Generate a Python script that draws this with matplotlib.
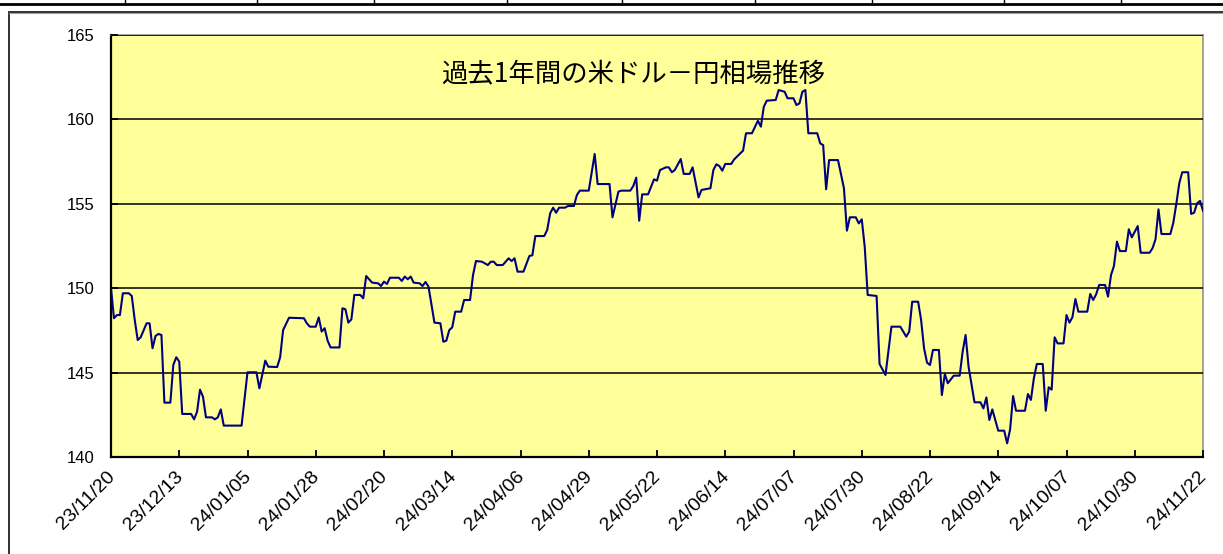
import matplotlib
matplotlib.use("Agg")
import matplotlib.pyplot as plt
import matplotlib.dates as mdates
import matplotlib.transforms as mtransforms
from matplotlib.patches import Rectangle
from matplotlib.lines import Line2D
import pandas as pd

# ---------------- data ----------------
title = "過去1年間の米ドル－円相場推移"

dates = [
    "2023-11-20", "2023-11-21", "2023-11-22", "2023-11-23", "2023-11-24", "2023-11-26",
    "2023-11-27", "2023-11-28", "2023-11-29", "2023-11-30", "2023-12-02", "2023-12-03",
    "2023-12-04", "2023-12-05", "2023-12-06", "2023-12-07", "2023-12-08", "2023-12-10",
    "2023-12-11", "2023-12-12", "2023-12-13", "2023-12-14", "2023-12-17", "2023-12-18",
    "2023-12-19", "2023-12-20", "2023-12-21", "2023-12-22", "2023-12-24", "2023-12-25",
    "2023-12-26", "2023-12-27", "2023-12-28", "2024-01-03", "2024-01-05", "2024-01-08",
    "2024-01-09", "2024-01-11", "2024-01-12", "2024-01-15", "2024-01-16", "2024-01-17",
    "2024-01-19", "2024-01-24", "2024-01-25", "2024-01-26", "2024-01-28", "2024-01-29",
    "2024-01-30", "2024-01-31", "2024-02-01", "2024-02-02", "2024-02-05", "2024-02-06",
    "2024-02-07", "2024-02-08", "2024-02-09", "2024-02-10", "2024-02-12", "2024-02-13",
    "2024-02-14", "2024-02-16", "2024-02-18", "2024-02-19", "2024-02-20", "2024-02-21",
    "2024-02-22", "2024-02-25", "2024-02-26", "2024-02-27", "2024-02-28", "2024-02-29",
    "2024-03-01", "2024-03-03", "2024-03-04", "2024-03-05", "2024-03-06", "2024-03-08",
    "2024-03-10", "2024-03-11", "2024-03-12", "2024-03-13", "2024-03-14", "2024-03-15",
    "2024-03-17", "2024-03-18", "2024-03-20", "2024-03-21", "2024-03-22", "2024-03-24",
    "2024-03-26", "2024-03-27", "2024-03-28", "2024-03-29", "2024-03-31", "2024-04-02",
    "2024-04-03", "2024-04-04", "2024-04-05", "2024-04-07", "2024-04-09", "2024-04-10",
    "2024-04-11", "2024-04-14", "2024-04-15", "2024-04-16", "2024-04-17", "2024-04-18",
    "2024-04-19", "2024-04-21", "2024-04-22", "2024-04-24", "2024-04-25", "2024-04-26",
    "2024-04-29", "2024-05-01", "2024-05-02", "2024-05-06", "2024-05-07", "2024-05-09",
    "2024-05-10", "2024-05-13", "2024-05-14", "2024-05-15", "2024-05-16", "2024-05-17",
    "2024-05-19", "2024-05-21", "2024-05-22", "2024-05-23", "2024-05-25", "2024-05-26",
    "2024-05-27", "2024-05-28", "2024-05-30", "2024-05-31", "2024-06-02", "2024-06-03",
    "2024-06-05", "2024-06-06", "2024-06-09", "2024-06-10", "2024-06-11", "2024-06-12",
    "2024-06-13", "2024-06-14", "2024-06-16", "2024-06-17", "2024-06-20", "2024-06-21",
    "2024-06-23", "2024-06-25", "2024-06-26", "2024-06-27", "2024-06-28", "2024-07-01",
    "2024-07-02", "2024-07-04", "2024-07-05", "2024-07-07", "2024-07-08", "2024-07-09",
    "2024-07-10", "2024-07-11", "2024-07-12", "2024-07-15", "2024-07-16", "2024-07-17",
    "2024-07-18", "2024-07-19", "2024-07-22", "2024-07-24", "2024-07-25", "2024-07-26",
    "2024-07-28", "2024-07-29", "2024-07-30", "2024-07-31", "2024-08-01", "2024-08-04",
    "2024-08-05", "2024-08-07", "2024-08-09", "2024-08-12", "2024-08-14", "2024-08-15",
    "2024-08-16", "2024-08-18", "2024-08-19", "2024-08-20", "2024-08-21", "2024-08-22",
    "2024-08-23", "2024-08-25", "2024-08-26", "2024-08-27", "2024-08-28", "2024-08-30",
    "2024-09-01", "2024-09-02", "2024-09-03", "2024-09-04", "2024-09-06", "2024-09-08",
    "2024-09-09", "2024-09-10", "2024-09-11", "2024-09-12", "2024-09-14", "2024-09-16",
    "2024-09-17", "2024-09-18", "2024-09-19", "2024-09-20", "2024-09-23", "2024-09-24",
    "2024-09-25", "2024-09-26", "2024-09-27", "2024-09-29", "2024-09-30", "2024-10-01",
    "2024-10-02", "2024-10-03", "2024-10-04", "2024-10-06", "2024-10-07", "2024-10-08",
    "2024-10-09", "2024-10-10", "2024-10-11", "2024-10-14", "2024-10-15", "2024-10-16",
    "2024-10-17", "2024-10-18", "2024-10-20", "2024-10-21", "2024-10-22", "2024-10-23",
    "2024-10-24", "2024-10-25", "2024-10-27", "2024-10-28", "2024-10-29", "2024-10-31",
    "2024-11-01", "2024-11-04", "2024-11-05", "2024-11-06", "2024-11-07", "2024-11-08",
    "2024-11-11", "2024-11-12", "2024-11-13", "2024-11-14", "2024-11-15", "2024-11-17",
    "2024-11-18", "2024-11-19", "2024-11-20", "2024-11-21", "2024-11-22",
]

rates = [
    150.00, 148.22, 148.41, 148.41, 149.70, 149.70,
    149.54, 148.12, 146.93, 147.09, 147.92, 147.92,
    146.44, 147.17, 147.29, 147.23, 143.22, 143.22,
    145.45, 145.91, 145.65, 142.55, 142.55, 142.23,
    142.68, 143.99, 143.57, 142.35, 142.35, 142.23,
    142.35, 142.82, 141.86, 141.86, 145.02, 145.02,
    144.07, 145.71, 145.35, 145.33, 145.91, 147.52,
    148.25, 148.22, 147.92, 147.72, 147.72, 148.27,
    147.43, 147.63, 146.89, 146.49, 146.49, 148.81,
    148.75, 147.96, 148.15, 149.60, 149.60, 149.40,
    150.72, 150.33, 150.29, 150.13, 150.39, 150.25,
    150.62, 150.62, 150.43, 150.69, 150.53, 150.69,
    150.33, 150.29, 150.13, 150.37, 150.09, 147.96,
    147.92, 146.83, 146.89, 147.52, 147.68, 148.61,
    148.61, 149.30, 149.30, 150.78, 151.61, 151.57,
    151.37, 151.57, 151.57, 151.37, 151.37, 151.77,
    151.61, 151.77, 150.98, 150.98, 151.91, 151.95,
    153.09, 153.09, 153.45, 154.44, 154.77, 154.47,
    154.77, 154.77, 154.87, 154.87, 155.52, 155.78,
    155.78, 157.95, 156.17, 156.17, 154.20, 155.72,
    155.78, 155.78, 156.05, 156.55, 154.00, 155.56,
    155.56, 156.45, 156.37, 157.00, 157.16, 157.16,
    156.87, 157.00, 157.65, 156.77, 156.77, 157.16,
    155.38, 155.82, 155.92, 157.00, 157.34, 157.24,
    156.96, 157.36, 157.36, 157.63, 158.15, 159.18,
    159.18, 159.92, 159.57, 160.75, 161.11, 161.15,
    161.74, 161.64, 161.25, 161.25, 160.85, 160.95,
    161.64, 161.74, 159.18, 159.18, 158.58, 158.48,
    155.86, 157.59, 157.59, 155.92, 153.41, 154.20,
    154.20, 153.84, 154.08, 152.46, 149.60, 149.54,
    145.51, 144.86, 147.72, 147.72, 147.13, 147.43,
    149.20, 149.20, 148.12, 146.44, 145.59, 145.45,
    146.34, 146.34, 143.67, 144.92, 144.37, 144.82,
    144.82, 146.24, 147.23, 145.35, 143.24, 143.24,
    142.88, 143.53, 142.19, 142.82, 141.56, 141.56,
    140.81, 141.64, 143.61, 142.74, 142.74, 143.73,
    143.38, 144.66, 145.51, 145.51, 142.74, 144.13,
    143.99, 147.09, 146.73, 146.73, 148.41, 147.96,
    148.28, 149.36, 148.61, 148.61, 149.66, 149.30,
    149.64, 150.19, 150.19, 149.50, 150.78, 151.32,
    152.76, 152.20, 152.20, 153.49, 153.01, 153.68,
    152.10, 152.10, 152.37, 152.90, 154.67, 153.21,
    153.21, 153.88, 154.99, 156.21, 156.87, 156.87,
    154.40, 154.47, 155.03, 155.17, 154.59,
]

x_start = "2023-11-20"
x_end = "2024-11-22"
tick_step_days = 23
y_min, y_max, y_step = 140, 165, 5

# ---------------- figure ----------------
W, H = 1223, 554
fig = plt.figure(figsize=(W / 100, H / 100), dpi=100)
fig.patch.set_facecolor("white")


def fx(px):
    return px / W


def fy(py):
    return 1 - py / H


# spreadsheet cell row at the very top
fig.add_artist(Line2D([0, 1], [fy(3.5), fy(3.5)], color="black", lw=2.0,
                      transform=fig.transFigure))
for cx in [125, 257, 374, 507, 622, 755, 872, 1004, 1121]:
    fig.add_artist(Line2D([fx(cx), fx(cx)], [fy(0), fy(3.5)], color="black",
                          lw=1.0, transform=fig.transFigure))

# chart frame (extends past right and bottom edges)
fig.add_artist(Rectangle((fx(8.5), fy(600)), fx(1300), fy(11.5) - fy(600),
                         fill=False, edgecolor="#202020", lw=1.3,
                         transform=fig.transFigure))
fig.add_artist(Line2D([fx(9), fx(1223)], [fy(12.7), fy(12.7)], color="#a0a0a0",
                      lw=0.8, transform=fig.transFigure))

# plot area
left, right, top, bottom = 111, 1203, 35, 457
ax = fig.add_axes([fx(left), fy(bottom), fx(right - left), fy(top) - fy(bottom)])
ax.set_facecolor("#FFFF99")

x = pd.to_datetime(dates)
ax.plot(x, rates, color="#000080", lw=1.5, zorder=3)

ax.set_xlim(pd.Timestamp(x_start), pd.Timestamp(x_end))
ax.set_ylim(y_min, y_max)

ticks = pd.date_range(x_start, x_end, freq=f"{tick_step_days}D")
ax.set_xticks(ticks)
ax.xaxis.set_major_formatter(mdates.DateFormatter("%y/%m/%d"))
ax.set_yticks(range(y_min, y_max + 1, y_step))

ax.grid(axis="y", color="black", lw=1.1)
ax.set_axisbelow(False)
for gl in ax.get_ygridlines():
    gl.set_zorder(2)

for s in ["left", "bottom"]:
    ax.spines[s].set_color("black")
    ax.spines[s].set_linewidth(1.6)
for s in ["top", "right"]:
    ax.spines[s].set_color("#8c8c8c")
    ax.spines[s].set_linewidth(1.1)

tick_font = "Liberation Sans"
ax.tick_params(axis="y", direction="in", length=5, width=1.3, pad=12,
               labelsize=12, colors="black")
ax.tick_params(axis="x", direction="in", length=5, width=1.3, pad=12,
               labelsize=14, colors="black")
for lab in ax.get_yticklabels():
    lab.set_fontfamily(tick_font)

offset = mtransforms.ScaledTranslation(1 / 100, 0, fig.dpi_scale_trans)
for lab in ax.get_xticklabels():
    lab.set_fontfamily(tick_font)
    lab.set_rotation(45)
    lab.set_rotation_mode("anchor")
    lab.set_ha("right")
    lab.set_va("center")
    lab.set_transform(lab.get_transform() + offset)

fig.text(fx(633), fy(74), title, ha="center", va="center", fontsize=19,
         family=["Noto Sans CJK JP", "DejaVu Sans"], color="black")

fig.savefig("out.png", dpi=100)
